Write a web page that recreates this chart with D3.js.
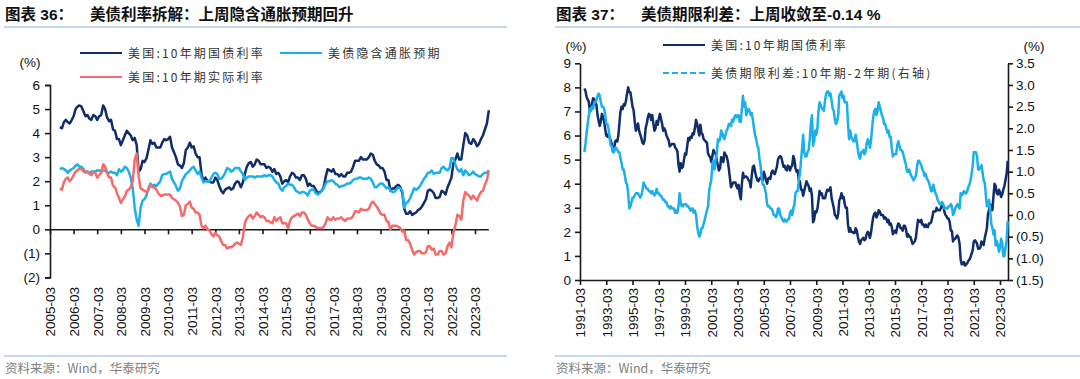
<!DOCTYPE html>
<html><head><meta charset="utf-8">
<script src="https://cdn.jsdelivr.net/npm/d3@7"></script>
<style>body{margin:0;background:#fff} svg{display:block}</style>
</head><body>
<svg id="c" width="1080" height="379"></svg>
<script>
// ---------------- DATA ----------------
// US 10Y Treasury yield (%), monthly, starting 1991-07
const us10yStart = "1991-07";
const us10y = [
7.95,7.85,7.6,7.5,7.4,7.0,
7.1,7.35,7.55,7.5,7.4,7.25,6.85,6.6,6.4,6.6,6.9,6.75,
6.6,6.25,6.0,5.95,6.05,5.95,5.8,5.65,5.35,5.35,5.75,5.8,
5.75,6.0,6.5,7.0,7.2,7.1,7.3,7.25,7.45,7.75,8.0,7.8,
7.8,7.5,7.2,7.05,6.6,6.2,6.3,6.5,6.2,6.05,5.9,5.7,
5.65,5.8,6.3,6.5,6.75,6.9,6.85,6.65,6.85,6.5,6.2,6.3,
6.6,6.45,6.7,6.9,6.7,6.5,6.2,6.3,6.2,6.0,5.9,5.8,
5.55,5.6,5.65,5.65,5.65,5.5,5.45,5.35,4.8,4.5,4.85,4.65,
4.7,5.0,5.25,5.2,5.55,5.9,5.8,5.95,5.9,6.1,6.05,6.3,
6.65,6.5,6.25,6.0,6.45,6.1,6.05,5.85,5.8,5.75,5.7,5.25,
5.15,5.1,4.9,5.15,5.4,5.3,5.25,4.95,4.75,4.55,4.65,5.1,
5.05,4.9,5.3,5.2,5.15,4.95,4.65,4.25,3.85,3.95,4.05,4.05,
4.05,3.9,3.8,3.95,3.55,3.35,4.0,4.45,4.25,4.3,4.3,4.25,
4.15,4.1,3.85,4.35,4.7,4.75,4.5,4.3,4.15,4.1,4.2,4.25,
4.2,4.15,4.5,4.35,4.15,4.0,4.2,4.25,4.2,4.45,4.55,4.45,
4.4,4.55,4.7,5.0,5.1,5.15,5.1,4.9,4.7,4.75,4.6,4.55,
4.75,4.7,4.55,4.7,4.75,5.15,5.0,4.65,4.5,4.55,4.15,4.1,
3.75,3.75,3.5,3.7,3.9,4.1,4.0,3.9,3.7,3.8,3.5,2.4,
2.5,2.85,2.8,2.95,3.3,3.7,3.55,3.6,3.4,3.4,3.4,3.6,
3.75,3.7,3.75,3.85,3.4,3.2,3.0,2.7,2.65,2.55,2.75,3.3,
3.4,3.6,3.4,3.45,3.15,3.0,3.0,2.3,2.0,2.15,2.0,2.0,
1.95,1.95,2.15,2.05,1.8,1.6,1.5,1.65,1.7,1.75,1.65,1.7,
1.9,2.0,1.95,1.75,1.95,2.3,2.6,2.75,2.8,2.6,2.7,2.9,
2.85,2.7,2.7,2.7,2.55,2.6,2.55,2.4,2.5,2.3,2.35,2.2,
1.9,2.0,2.05,1.95,2.2,2.35,2.3,2.15,2.15,2.05,2.25,2.25,
2.1,1.8,1.9,1.8,1.8,1.65,1.5,1.55,1.6,1.75,2.15,2.5,
2.45,2.4,2.5,2.3,2.3,2.2,2.3,2.2,2.2,2.35,2.35,2.4,
2.6,2.85,2.85,2.85,3.0,2.9,2.9,2.9,3.0,3.15,3.1,2.85,
2.7,2.65,2.55,2.55,2.4,2.05,2.05,1.6,1.7,1.7,1.8,1.85,
1.75,1.5,0.85,0.65,0.65,0.75,0.6,0.65,0.7,0.8,0.85,0.95,
1.1,1.25,1.6,1.65,1.6,1.5,1.3,1.3,1.35,1.6,1.55,1.45,
1.75,1.95,2.15,2.75,2.9,3.15,2.9,2.9,3.5,4.0,3.9,3.6,
3.55,3.75,3.65,3.45,3.55,3.75,3.9,4.15,4.4,4.95
];
// 10Y-2Y term spread (%), monthly, starting 1991-07 (right axis)
const spreadStart = "1991-07";
const spread10y2y = [
1.45,1.65,1.9,2.1,2.3,2.45,
2.4,2.5,2.45,2.6,2.6,2.65,2.75,2.8,2.75,2.6,2.5,2.5,
2.45,2.3,2.1,2.1,2.0,1.8,1.6,1.6,1.45,1.45,1.55,1.55,
1.5,1.45,1.45,1.3,1.2,1.05,1.05,0.9,0.75,0.7,0.5,0.15,
0.2,0.3,0.4,0.4,0.45,0.5,0.5,0.5,0.45,0.4,0.45,0.55,
0.75,0.7,0.65,0.6,0.6,0.55,0.55,0.5,0.55,0.5,0.45,0.5,
0.6,0.5,0.5,0.45,0.45,0.4,0.35,0.35,0.3,0.3,0.2,0.2,
0.15,0.2,0.15,0.15,0.15,0.05,0.1,0.05,0.2,0.5,0.3,0.2,
0.2,0.25,0.25,0.25,0.2,0.2,0.15,0.1,0.15,0.15,0.05,0.1,
0.0,-0.25,-0.4,-0.5,-0.45,-0.3,-0.3,-0.2,-0.1,0.0,0.1,0.2,
0.55,0.7,0.8,1.2,1.25,1.05,1.3,1.4,1.75,1.7,1.75,1.95,
1.9,1.8,1.75,1.85,1.95,2.0,2.1,2.1,2.05,2.2,2.15,2.25,
2.3,2.25,2.3,2.3,2.15,2.15,2.45,2.75,2.5,2.6,2.3,2.4,
2.45,2.4,2.3,2.35,2.2,2.0,1.85,1.75,1.6,1.55,1.3,1.15,
0.85,0.7,0.7,0.6,0.5,0.25,0.2,0.2,0.15,0.15,0.1,0.0,
0.0,-0.05,0.0,0.15,0.15,0.0,-0.05,-0.1,-0.15,-0.1,-0.15,-0.15,
-0.1,-0.1,0.05,0.1,0.0,0.15,0.25,0.5,0.55,0.55,0.8,0.95,
1.25,1.55,1.85,1.45,1.35,1.35,1.45,1.5,1.75,2.1,2.3,1.6,
1.7,1.95,1.85,2.0,2.4,2.6,2.55,2.45,2.45,2.4,2.65,2.8,
2.85,2.85,2.75,2.8,2.65,2.45,2.4,2.2,2.1,2.15,2.3,2.75,
2.8,2.85,2.7,2.75,2.6,2.6,2.6,2.1,1.75,1.95,1.8,1.75,
1.7,1.7,1.85,1.7,1.5,1.35,1.3,1.45,1.45,1.5,1.4,1.45,
1.65,1.75,1.7,1.55,1.7,2.0,2.25,2.4,2.45,2.3,2.4,2.6,
2.5,2.4,2.3,2.25,2.1,2.1,2.0,1.9,1.95,1.8,1.8,1.55,
1.35,1.4,1.4,1.4,1.6,1.7,1.6,1.5,1.5,1.45,1.35,1.25,
1.15,1.0,1.0,1.05,0.95,0.9,0.85,0.8,0.85,0.9,1.1,1.25,
1.25,1.2,1.15,1.05,1.0,0.9,0.95,0.85,0.8,0.75,0.65,0.55,
0.55,0.7,0.6,0.5,0.45,0.35,0.3,0.25,0.25,0.3,0.25,0.15,
0.17,0.15,0.15,0.2,0.2,0.25,0.2,0.0,0.05,0.15,0.2,0.25,
0.2,0.15,0.5,0.45,0.5,0.55,0.5,0.5,0.55,0.65,0.7,0.8,
0.95,1.15,1.45,1.45,1.45,1.35,1.05,1.05,1.1,1.15,0.98,0.8,
0.75,0.45,0.2,0.2,0.35,0.1,-0.2,-0.3,-0.45,-0.35,-0.7,-0.6,
-0.7,-0.85,-0.75,-0.55,-0.65,-0.95,-0.95,-0.75,-0.6,-0.14
];
// Left chart: 10Y breakeven inflation and 10Y real yield (%), monthly, starting 2005-08
const leftStart = "2005-08";
const breakeven = [
2.5,2.55,2.5,2.45,2.35,
2.45,2.5,2.55,2.65,2.7,2.6,2.6,2.5,2.35,2.4,2.35,2.4,
2.4,2.4,2.45,2.45,2.4,2.45,2.45,2.35,2.35,2.4,2.35,2.35,
2.25,2.5,2.4,2.45,2.6,2.55,2.4,2.15,1.7,0.9,0.4,0.15,
0.9,1.2,1.25,1.4,1.7,1.9,1.8,1.85,1.8,1.9,2.0,2.25,
2.3,2.3,2.35,2.4,2.1,1.95,1.8,1.6,1.7,2.0,2.15,2.3,
2.35,2.45,2.55,2.6,2.45,2.3,2.4,2.15,1.95,2.0,2.0,2.0,
2.15,2.3,2.35,2.3,2.1,2.1,2.2,2.35,2.55,2.5,2.4,2.45,
2.55,2.55,2.55,2.4,2.3,2.05,2.15,2.2,2.2,2.2,2.15,2.2,
2.2,2.2,2.2,2.25,2.2,2.25,2.25,2.2,2.05,1.95,1.9,1.7,
1.6,1.75,1.8,1.9,1.85,1.85,1.75,1.6,1.55,1.5,1.55,1.55,
1.5,1.4,1.6,1.65,1.65,1.5,1.45,1.5,1.6,1.7,1.9,2.0,
2.0,2.05,2.0,1.9,1.85,1.75,1.8,1.8,1.85,1.9,1.9,1.95,
2.05,2.1,2.1,2.15,2.15,2.1,2.1,2.1,2.15,2.1,1.95,1.75,
1.75,1.85,1.9,1.9,1.8,1.7,1.75,1.6,1.55,1.55,1.65,1.75,
1.7,1.6,0.9,1.1,1.15,1.3,1.5,1.7,1.65,1.7,1.8,1.95,
2.1,2.2,2.35,2.35,2.45,2.3,2.35,2.35,2.35,2.55,2.6,2.5,
2.45,2.55,2.95,2.95,2.7,2.5,2.4,2.5,2.25,2.45,2.35,2.25,
2.3,2.4,2.3,2.25,2.2,2.2,2.3,2.35,2.35,2.45
];
const realRate = [
1.7,1.65,1.95,2.1,2.15,
2.0,2.1,2.25,2.4,2.45,2.55,2.5,2.4,2.4,2.4,2.3,2.25,
2.4,2.35,2.15,2.25,2.35,2.7,2.6,2.35,2.15,2.15,1.8,1.75,
1.5,1.3,1.1,1.25,1.35,1.6,1.65,1.75,2.0,2.9,3.15,2.2,
1.7,1.65,1.6,1.55,1.65,1.85,1.75,1.75,1.65,1.5,1.4,1.4,
1.45,1.45,1.45,1.45,1.3,1.25,1.2,1.1,0.95,0.55,0.6,1.0,
1.05,1.15,0.9,0.85,0.7,0.7,0.6,0.15,0.05,0.15,0.0,-0.05,
-0.2,-0.3,-0.15,-0.25,-0.3,-0.5,-0.65,-0.65,-0.8,-0.75,-0.75,-0.7,
-0.6,-0.55,-0.6,-0.65,-0.35,0.25,0.45,0.55,0.6,0.45,0.55,0.7,
0.6,0.5,0.55,0.5,0.35,0.35,0.3,0.25,0.5,0.35,0.45,0.5,
0.25,0.25,0.25,0.05,0.35,0.5,0.55,0.6,0.65,0.55,0.7,0.7,
0.6,0.4,0.25,0.15,0.15,0.1,0.05,0.05,0.05,0.1,0.25,0.5,
0.4,0.4,0.5,0.4,0.45,0.45,0.5,0.4,0.35,0.45,0.45,0.45,
0.55,0.75,0.75,0.7,0.85,0.8,0.8,0.8,0.85,1.05,1.15,1.05,
0.95,0.8,0.65,0.6,0.6,0.35,0.3,0.0,0.15,0.15,0.15,0.1,
0.05,-0.1,-0.05,-0.45,-0.45,-0.6,-0.85,-1.05,-0.95,-0.9,-0.9,-1.0,
-1.0,-0.95,-0.7,-0.7,-0.85,-0.8,-1.05,-1.05,-0.9,-0.9,-1.05,-1.0,
-0.7,-0.55,-0.75,-0.15,0.15,0.6,0.55,0.4,1.2,1.55,1.45,1.4,
1.25,1.4,1.3,1.2,1.4,1.55,1.6,1.85,2.05,2.45
];
// Tick labels
const leftXTicks = ["2005-03","2006-03","2007-03","2008-03","2009-03","2010-03","2011-03","2012-03","2013-03","2014-03","2015-03","2016-03","2017-03","2018-03","2019-03","2020-03","2021-03","2022-03","2023-03"];
const leftYTicks = [-2,-1,0,1,2,3,4,5,6];
const rightXTicks = ["1991-03","1993-03","1995-03","1997-03","1999-03","2001-03","2003-03","2005-03","2007-03","2009-03","2011-03","2013-03","2015-03","2017-03","2019-03","2021-03","2023-03"];
const rightYTicksL = [0,1,2,3,4,5,6,7,8,9];
const rightYTicksR = [-1.5,-1.0,-0.5,0.0,0.5,1.0,1.5,2.0,2.5,3.0,3.5];

const names = {
  t36a: "图表 36：", t36b: "美债利率拆解：上周隐含通胀预期回升",
  t37a: "图表 37：", t37b: "美债期限利差：上周收敛至-0.14 %",
  s10y: "美国:10年期国债利率", sBE: "美债隐含通胀预期", sReal: "美国:10年期实际利率",
  sSpread: "美债期限利差:10年期-2年期(右轴)", src: "资料来源：Wind，华泰研究"
};

// ---------------- DRAW ----------------
const C = {dark:"#0f2d6b", light:"#19b0ec", red:"#f66a6a", axis:"#1a1a1a", rule:"#8fb0dc", grey:"#808080"};
const parseM = d3.timeParse("%Y-%m");
const series = (start, arr) => arr.map((v,i)=>({d:d3.timeMonth.offset(parseM(start), i), v}));
const svg = d3.select("#c");
const NUM = "'Liberation Sans', Arial, sans-serif";
const LW = 2.5;

function header(x0, x1, a, b){
  svg.append("text").attr("x", x0).attr("y", 20).attr("font-family", "'Liberation Sans','Noto Sans CJK SC',sans-serif")
    .attr("font-weight", "bold").attr("font-size", 15.5).attr("fill", "#111").text(a);
  svg.append("text").attr("x", x0+85).attr("y", 20).attr("font-family", "'Liberation Sans','Noto Sans CJK SC',sans-serif")
    .attr("font-weight", "bold").attr("font-size", 15.5).attr("fill", "#111").text(b);
  svg.append("line").attr("x1", x0-1).attr("x2", x1).attr("y1", 27).attr("y2", 27).attr("stroke", C.rule).attr("stroke-width", 1.2);
  svg.append("line").attr("x1", x0-1).attr("x2", x1).attr("y1", 356).attr("y2", 356).attr("stroke", C.rule).attr("stroke-width", 1.2);
  svg.append("text").attr("x", x0).attr("y", 373).attr("font-family", "'Noto Sans CJK SC','Liberation Sans',sans-serif")
    .attr("font-size", 12.5).attr("fill", C.grey).text(names.src);
}
header(5, 507, names.t36a, names.t36b);
header(556, 1080, names.t37a, names.t37b);

function legendItem(x, y, color, label, dashed){
  svg.append("line").attr("x1", x).attr("x2", x+42).attr("y1", y).attr("y2", y)
    .attr("stroke", color).attr("stroke-width", 2.2).attr("stroke-dasharray", dashed ? "6,3" : null);
  svg.append("text").attr("x", x+48).attr("y", y+4.5).attr("font-family", "'Noto Sans CJK SC','Liberation Sans',sans-serif")
    .attr("font-size", 12).attr("letter-spacing", 2.2).attr("fill", "#333").text(label);
}

function styleAxis(g){
  g.select(".domain").attr("stroke", C.axis).attr("stroke-width", 1.6);
  g.selectAll(".tick line").attr("stroke", C.axis).attr("stroke-width", 1.6);
  g.selectAll("text").attr("font-family", NUM).attr("font-size", 13.5).attr("fill", "#111");
}

const fmtNeg0 = v => v < 0 ? `(${-v})` : `${v}`;
const fmtNeg1 = v => v < 0 ? `(${(-v).toFixed(1)})` : v.toFixed(1);

// ===== LEFT CHART =====
{
  const x = d3.scaleTime().domain([parseM("2005-03"), parseM("2023-03")]).range([50, 475]);
  const y = d3.scaleLinear().domain([-2, 6]).range([277.4, 85]);
  const dEnd = d3.timeMonth.offset(parseM(us10yStart), us10y.length-1);
  const s10 = series(us10yStart, us10y).filter(p => p.d >= parseM(leftStart));
  const sBE = series(leftStart, breakeven);
  const sRe = series(leftStart, realRate);

  const gy = svg.append("g").attr("transform", "translate(50,0)")
    .call(d3.axisLeft(y).tickValues(leftYTicks).tickSize(5).tickPadding(5).tickFormat(fmtNeg0));
  styleAxis(gy);
  const gx = svg.append("g").attr("transform", `translate(0,${y(0)})`)
    .call(d3.axisBottom(x).tickValues(leftXTicks.map(parseM)).tickSize(5).tickFormat("").tickSizeOuter(0));
  styleAxis(gx);
  gx.select(".domain").attr("d", `M50,0.5H${x(dEnd)}`);
  const gl = svg.append("g").attr("transform", "translate(0,287)")
    .call(d3.axisBottom(x).tickValues(leftXTicks.map(parseM)).tickSize(0).tickFormat(d3.timeFormat("%Y-%m")));
  gl.select(".domain").remove();
  styleAxis(gl);
  gl.selectAll("text").attr("transform", "rotate(-90)").attr("text-anchor", "end").attr("x", 0).attr("y", 0).attr("dy", "0.36em");

  svg.append("text").attr("x", 30).attr("y", 67).attr("text-anchor", "middle").attr("font-family", NUM).attr("font-size", 13.5).attr("fill", "#111").text("(%)");

  const line = d3.line().x(p => x(p.d)).y(p => y(p.v));
  [[s10, C.dark], [sBE, C.light], [sRe, C.red]].forEach(([s, c]) =>
    svg.append("path").datum(s).attr("d", line).attr("fill", "none").attr("stroke", c).attr("stroke-width", LW).attr("stroke-linejoin", "round"));

  legendItem(80, 53, C.dark, names.s10y);
  legendItem(280, 53, C.light, names.sBE);
  legendItem(80, 77, C.red, names.sReal);
}

// ===== RIGHT CHART =====
{
  const x = d3.scaleTime().domain([parseM("1991-03"), parseM("2023-03")]).range([580, 1000]);
  const yL = d3.scaleLinear().domain([0, 9]).range([280, 63.3]);
  const yR = d3.scaleLinear().domain([-1.5, 3.5]).range([280, 63.3]);
  const s10 = series(us10yStart, us10y);
  const sSp = series(spreadStart, spread10y2y);

  const gyl = svg.append("g").attr("transform", "translate(580,0)")
    .call(d3.axisLeft(yL).tickValues(rightYTicksL).tickSize(5).tickPadding(4).tickFormat(d3.format("d")).tickSizeOuter(0));
  styleAxis(gyl);
  const gyr = svg.append("g").attr("transform", "translate(1008,0)")
    .call(d3.axisRight(yR).tickValues(rightYTicksR).tickSize(5).tickPadding(3).tickFormat(fmtNeg1).tickSizeOuter(0));
  styleAxis(gyr);
  const gx = svg.append("g").attr("transform", "translate(0,280)")
    .call(d3.axisBottom(x).tickValues(rightXTicks.map(parseM)).tickSize(5).tickFormat("").tickSizeOuter(0));
  styleAxis(gx);
  gx.select(".domain").attr("d", "M580,0.5H1008");
  const gl = svg.append("g").attr("transform", "translate(0,288)")
    .call(d3.axisBottom(x).tickValues(rightXTicks.map(parseM)).tickSize(0).tickFormat(d3.timeFormat("%Y-%m")));
  gl.select(".domain").remove();
  styleAxis(gl);
  gl.selectAll("text").attr("transform", "rotate(-90)").attr("text-anchor", "end").attr("x", 0).attr("y", 0).attr("dy", "0.36em");

  svg.append("text").attr("x", 576).attr("y", 51).attr("text-anchor", "middle").attr("font-family", NUM).attr("font-size", 13.5).attr("fill", "#111").text("(%)");
  svg.append("text").attr("x", 1034).attr("y", 51).attr("text-anchor", "middle").attr("font-family", NUM).attr("font-size", 13.5).attr("fill", "#111").text("(%)");

  svg.append("path").datum(s10).attr("d", d3.line().x(p => x(p.d)).y(p => yL(p.v)))
    .attr("fill", "none").attr("stroke", C.dark).attr("stroke-width", LW).attr("stroke-linejoin", "round");
  svg.append("path").datum(sSp).attr("d", d3.line().x(p => x(p.d)).y(p => yR(p.v)))
    .attr("fill", "none").attr("stroke", C.light).attr("stroke-width", LW).attr("stroke-linejoin", "round");

  legendItem(663, 45, C.dark, names.s10y);
  legendItem(663, 73, C.light, names.sSpread, true);
}
</script>
</body></html>
